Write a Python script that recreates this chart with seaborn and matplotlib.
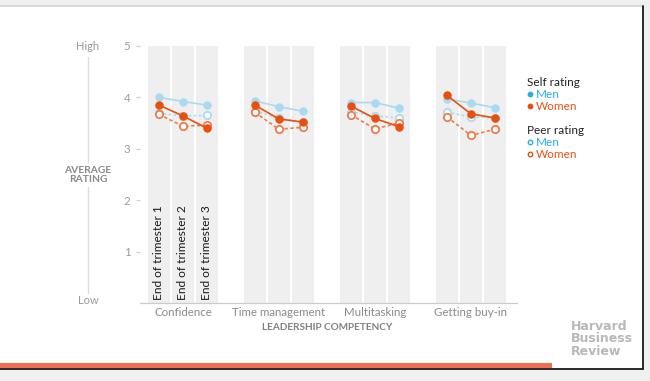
import pandas as pd
import seaborn as sns
import matplotlib.pyplot as plt
from matplotlib.patches import Rectangle
from matplotlib.lines import Line2D

sns.set_style("white")
plt.rcParams['font.family'] = ['Lato', 'DejaVu Sans']

competencies = ["Confidence", "Time management", "Multitasking", "Getting buy-in"]
trimesters = ["End of trimester 1", "End of trimester 2", "End of trimester 3"]

self_men = [[4.00, 3.92, 3.85], [3.93, 3.82, 3.73], [3.90, 3.90, 3.79], [3.97, 3.89, 3.80]]
self_women = [[3.85, 3.64, 3.40], [3.85, 3.58, 3.52], [3.83, 3.59, 3.43], [4.04, 3.68, 3.60]]
peer_men = [[3.69, 3.64, 3.65], [3.74, 3.59, 3.53], [3.72, 3.64, 3.60], [3.71, 3.62, 3.60]]
peer_women = [[3.67, 3.44, 3.46], [3.71, 3.38, 3.42], [3.66, 3.39, 3.50], [3.62, 3.26, 3.38]]

MEN_LIGHT = "#a9daf1"
MEN = "#2aaee6"
WOMEN = "#e8500f"
WOMEN_LIGHT = "#ec7b4c"
GREY_TXT = "#9a9a9a"

rows = []
for series, vals in [("self_men", self_men), ("self_women", self_women),
                     ("peer_men", peer_men), ("peer_women", peer_women)]:
    for g, comp in enumerate(competencies):
        for t, tri in enumerate(trimesters):
            rows.append({"series": series, "competency": comp, "trimester": tri,
                         "pos": 4 * g + t, "rating": vals[g][t]})
df = pd.DataFrame(rows)

W, H = 650, 381
fig = plt.figure(figsize=(6.5, 3.81), dpi=100)
fig.patch.set_facecolor("#eff0ef")


def fx(x):
    return x / W


def fy(y):
    return 1 - y / H


# white card with frame
fig.add_artist(Rectangle((0, fy(368)), fx(643), fy(6) - fy(368), transform=fig.transFigure,
                         facecolor="white", edgecolor="none", zorder=0))
fig.add_artist(Line2D([0, fx(643)], [fy(5.5)] * 2, transform=fig.transFigure, color="#d4d4d4", lw=1.2))
fig.add_artist(Line2D([fx(643)] * 2, [fy(5.5), fy(368.5)], transform=fig.transFigure, color="#1a1a1a", lw=1.3))
fig.add_artist(Line2D([0, fx(643)], [fy(368.5)] * 2, transform=fig.transFigure, color="#1a1a1a", lw=1.3))
fig.add_artist(Rectangle((0, fy(368)), fx(552), fy(363) - fy(368), transform=fig.transFigure,
                         facecolor="#f36e50", edgecolor="none"))

left, right, top, bottom = 140, 517, 46, 303
ax = fig.add_axes([fx(left), fy(bottom), fx(right - left), fy(top) - fy(bottom)])
ax.set_facecolor("none")

for g in range(len(competencies)):
    for t in range(len(trimesters)):
        ax.axvspan(4 * g + t - 0.46, 4 * g + t + 0.46, color="#efefef", lw=0, zorder=0)

styles = {
    "peer_men": dict(color=MEN_LIGHT, linestyle=(0, (1.5, 1.5)), marker="o", markersize=5.3,
                     markerfacecolor="white", markeredgecolor=MEN_LIGHT, markeredgewidth=1.3),
    "self_men": dict(color=MEN_LIGHT, linestyle="-", marker="o", markersize=5.3,
                     markerfacecolor=MEN_LIGHT, markeredgecolor=MEN_LIGHT),
    "peer_women": dict(color=WOMEN_LIGHT, linestyle=(0, (2, 1.5)), marker="o", markersize=5.3,
                       markerfacecolor="white", markeredgecolor=WOMEN_LIGHT, markeredgewidth=1.3),
    "self_women": dict(color=WOMEN, linestyle="-", marker="o", markersize=5.3,
                       markerfacecolor=WOMEN, markeredgecolor=WOMEN),
}
for z, series in enumerate(["peer_men", "self_men", "peer_women", "self_women"]):
    for comp in competencies:
        sub = df[(df.series == series) & (df.competency == comp)]
        sns.lineplot(data=sub, x="pos", y="rating", ax=ax, lw=1.2, zorder=3 + z,
                     legend=False, **styles[series])

ax.set_xlim(-0.79, 14.92)
ax.set_ylim(0, 5)
ax.set_yticks([1, 2, 3, 4, 5])
ax.set_xticks([4 * g + 1 for g in range(len(competencies))])
ax.set_xticklabels(competencies)
ax.tick_params(axis="y", length=3, width=0.8, color="#cccccc", pad=4, labelsize=8.3, labelcolor=GREY_TXT, left=True)
ax.tick_params(axis="x", length=0, pad=3, labelsize=8.3, labelcolor="#8a8a8a")
ax.set_xlabel("")
ax.set_ylabel("")
for s in ["top", "right", "left"]:
    ax.spines[s].set_visible(False)
ax.spines["bottom"].set_color("#cccccc")
ax.spines["bottom"].set_linewidth(0.9)

for t, tri in enumerate(trimesters):
    ax.text(t, 0.06, tri, rotation=90, ha="center", va="bottom", fontsize=8.6, color="#1a1a1a", zorder=10)

fig.text(fx(327), fy(327), "LEADERSHIP COMPETENCY", ha="center", va="center", fontsize=7.2,
         fontweight="bold", color="#808080")

# left scale annotation
fig.add_artist(Line2D([fx(88)] * 2, [fy(57), fy(293)], transform=fig.transFigure, color="#dddddd", lw=1))
fig.text(fx(88), fy(46), "High", ha="center", va="center", fontsize=8, color=GREY_TXT)
fig.text(fx(88), fy(301), "Low", ha="center", va="center", fontsize=8, color=GREY_TXT)
fig.text(fx(88), fy(175), "AVERAGE\nRATING", ha="center", va="center", fontsize=7.4, fontweight="bold",
         color="#8a8a8a", linespacing=1.05, bbox=dict(facecolor="white", edgecolor="none", pad=2))

# legend
fig.text(fx(527), fy(82), "Self rating", ha="left", va="center", fontsize=8.5, color="#222222")
fig.text(fx(527), fy(130), "Peer rating", ha="left", va="center", fontsize=8.5, color="#222222")
for y, label, col, filled in [(94, "Men", MEN, True), (106, "Women", WOMEN, True),
                              (142, "Men", MEN, False), (154, "Women", WOMEN, False)]:
    fig.add_artist(Line2D([fx(530)], [fy(y)], transform=fig.transFigure, marker="o", markersize=3.2,
                          markerfacecolor=col if filled else "white", markeredgecolor=col,
                          markeredgewidth=1.0, linestyle="none"))
    fig.text(fx(536), fy(y), label, ha="left", va="center", fontsize=8.5, color=col)

fig.text(fx(571), fy(339), "Harvard\nBusiness\nReview", ha="left", va="center", fontsize=9,
         fontweight="bold", family="DejaVu Sans", color="#b8b8b8", linespacing=0.95)

fig.savefig("out.png", dpi=100, facecolor=fig.get_facecolor())
